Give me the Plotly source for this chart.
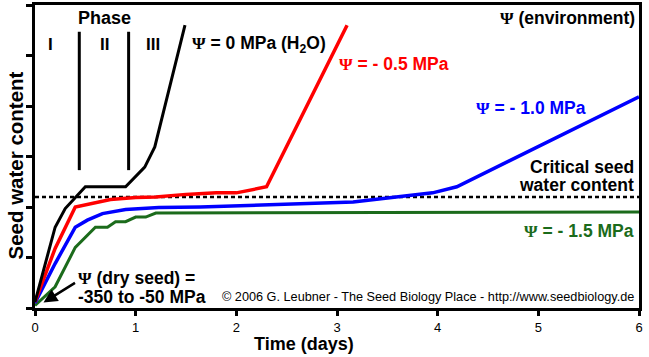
import plotly.graph_objects as go

# Time (days) and seed water content (arbitrary units) for each environment water potential
t_0 = [0, 0.2, 0.3, 0.5, 0.9, 1.09, 1.19, 1.49]
w_0 = [0.12, 1.6, 1.97, 2.4, 2.4, 2.79, 3.19, 5.6]

t_05 = [0, 0.2, 0.4, 0.75, 1.0, 1.2, 1.5, 1.8, 2.0, 2.3, 3.1]
w_05 = [0.12, 1.18, 2.0, 2.15, 2.19, 2.2, 2.25, 2.28, 2.28, 2.4, 5.6]

t_10 = [0, 0.2, 0.4, 0.52, 0.67, 0.9, 1.23, 1.64, 3.16, 3.95, 4.19, 6.0]
w_10 = [0.1, 0.88, 1.6, 1.74, 1.87, 1.95, 1.99, 2.0, 2.1, 2.28, 2.4, 4.18]

t_15 = [0, 0.2, 0.4, 0.6, 0.72, 0.8, 0.9, 1.0, 1.1, 1.2, 6.0]
w_15 = [0.05, 0.42, 1.2, 1.6, 1.6, 1.71, 1.71, 1.8, 1.8, 1.88, 1.9]

critical_level = 2.2
phase_bounds = [0.44, 0.93]
phase_y = [2.73, 5.47]
x_ticks = [0, 1, 2, 3, 4, 5, 6]
y_ticks = [0, 1, 2, 3, 4, 5, 6]

GREEN = "#1b6b1b"
FONT = "Liberation Sans, Arial, sans-serif"
PSI = "<span style=\"font-family:Liberation Serif, Times New Roman, serif\">Ψ</span>"

L, R, T, B = 34.5, 639.0, 5.0, 308.0

fig = go.Figure()

fig.add_trace(go.Scatter(x=[0, 6], y=[critical_level, critical_level], mode="lines",
                         line=dict(color="black", width=2.5, dash="4px,3px"), hoverinfo="skip"))
for xb in phase_bounds:
    fig.add_trace(go.Scatter(x=[xb, xb], y=phase_y, mode="lines",
                             line=dict(color="black", width=3), hoverinfo="skip"))

fig.add_trace(go.Scatter(x=t_15, y=w_15, mode="lines", line=dict(color=GREEN, width=3)))
fig.add_trace(go.Scatter(x=t_10, y=w_10, mode="lines", line=dict(color="#0000ff", width=3.5)))
fig.add_trace(go.Scatter(x=t_05, y=w_05, mode="lines", line=dict(color="#ff0000", width=3.5)))
fig.add_trace(go.Scatter(x=t_0, y=w_0, mode="lines", line=dict(color="black", width=3)))


def pxp(px):
    return (px - L) / (R - L)


def pyp(py):
    return (B - py) / (B - T)


ann = []


def add(text, px, py, size, color="black", xanchor="left", bold=True, angle=0):
    ann.append(dict(text=("<b>%s</b>" % text) if bold else text, x=pxp(px), y=pyp(py),
                    xref="paper", yref="paper", xanchor=xanchor, yanchor="middle",
                    showarrow=False, textangle=angle,
                    font=dict(family=FONT, size=size, color=color)))


add("Phase", 104, 18, 18, xanchor="center")
add("I", 50, 44, 17, xanchor="center")
add("II", 104, 44, 17, xanchor="center")
add("III", 153, 44, 17, xanchor="center")
add(PSI + " = 0 MPa (H<sub>2</sub>O)", 190, 44, 17.5)
add(PSI + " = - 0.5 MPa", 337, 64, 17.5, color="#ff0000")
add(PSI + " (environment)", 637, 18, 17.5, xanchor="right")
add(PSI + " = - 1.0 MPa", 474, 108, 17.5, color="#0000ff")
add("Critical seed", 636, 167, 17.5, xanchor="right")
add("water content", 636, 185, 17.5, xanchor="right")
add(PSI + " = - 1.5 MPa", 636, 231, 17.5, color=GREEN, xanchor="right")
add(PSI + " (dry seed) =", 76, 278, 17.5)
add("-350 to -50 MPa", 76, 297, 17.5)
add("© 2006 G. Leubner - The Seed Biology Place - http://www.seedbiology.de", 636, 297, 12.7,
    xanchor="right", bold=False)
add("Time (days)", 304, 344, 18, xanchor="center")
add("Seed water content", 14, 166, 20.5, xanchor="center", angle=-90)

# arrow pointing to the dry seed origin
ann.append(dict(x=pxp(43), y=pyp(302.5), ax=33, ay=-20.5, xref="paper", yref="paper",
                axref="pixel", ayref="pixel", text="", showarrow=True, arrowhead=2, arrowsize=1.1,
                arrowwidth=2.5, arrowcolor="black"))

fig.update_layout(
    width=649, height=357,
    margin=dict(l=L, r=649 - R, t=T, b=357 - B, autoexpand=False),
    plot_bgcolor="white", paper_bgcolor="white",
    showlegend=False,
    annotations=ann,
    font=dict(family=FONT, color="black"),
)
fig.update_xaxes(range=[0, 6], tickvals=x_ticks, ticktext=[str(v) for v in x_ticks],
                 showgrid=False, zeroline=False, showline=True, linecolor="black", linewidth=3,
                 mirror=True, ticks="outside", ticklen=5, tickwidth=2.5, tickcolor="black",
                 tickfont=dict(family=FONT, size=13, color="black"), tickprefix="<b>", ticksuffix="</b>")
fig.update_yaxes(range=[0, 6], tickvals=y_ticks, showticklabels=False,
                 showgrid=False, zeroline=False, showline=True, linecolor="black", linewidth=3,
                 mirror=True, ticks="outside", ticklen=6, tickwidth=2.5, tickcolor="black")

fig.write_html("out.html", config={"displayModeBar": False},
               post_script="document.body.style.margin='0';")
